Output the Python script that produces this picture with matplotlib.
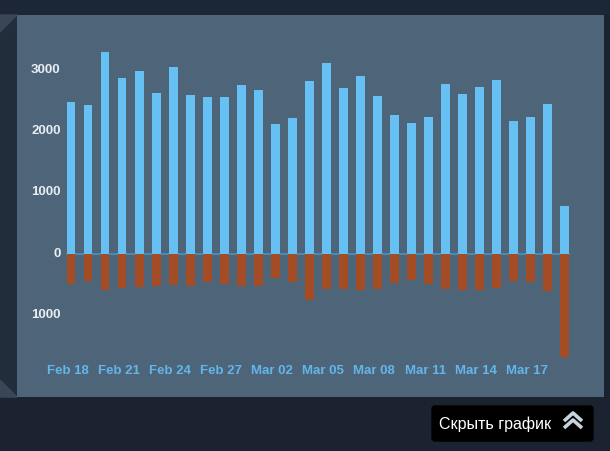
import matplotlib.pyplot as plt
from matplotlib.patches import Rectangle, Polygon, FancyBboxPatch

# daily values, Feb 18 .. Mar 19
days = ['Feb 18', 'Feb 19', 'Feb 20', 'Feb 21', 'Feb 22', 'Feb 23', 'Feb 24', 'Feb 25',
        'Feb 26', 'Feb 27', 'Feb 28', 'Mar 01', 'Mar 02', 'Mar 03', 'Mar 04', 'Mar 05',
        'Mar 06', 'Mar 07', 'Mar 08', 'Mar 09', 'Mar 10', 'Mar 11', 'Mar 12', 'Mar 13',
        'Mar 14', 'Mar 15', 'Mar 16', 'Mar 17', 'Mar 18', 'Mar 19']
positive = [2475, 2426, 3295, 2869, 2984, 2623, 3049, 2590, 2557, 2557,
            2754, 2672, 2115, 2213, 2820, 3115, 2705, 2902, 2574, 2262,
            2131, 2230, 2770, 2607, 2721, 2836, 2164, 2230, 2443, 785]
negative = [-500, -440, -590, -560, -540, -535, -505, -535, -460, -490,
            -525, -525, -405, -460, -750, -570, -570, -590, -570, -475,
            -425, -490, -575, -590, -590, -560, -440, -460, -610, -1690]
ytick_vals = [3000, 2000, 1000, 0, -1000]
ytick_text = ['3000', '2000', '1000', '0', '1000']

W, H = 610, 451
fig = plt.figure(figsize=(W / 100, H / 100), dpi=100)
fig.patch.set_facecolor('#1b2331')

# left strip and decorations (figure pixel coords)
bg = fig.add_axes([0, 0, 1, 1])
bg.set_xlim(0, W)
bg.set_ylim(H, 0)
bg.axis('off')
bg.add_patch(Rectangle((0, 0), W, 15, color='#1c2636'))
bg.add_patch(Rectangle((0, 15), 17, 382, color='#222d3c'))
bg.add_patch(Polygon([(0, 15), (17, 15), (0, 32)], color='#3a4656'))
bg.add_patch(Polygon([(0, 380), (17, 397), (0, 397)], color='#3a4656'))
bg.add_patch(Rectangle((604, 15), 6, 382, color='#1a2230'))

# button
bg.add_patch(FancyBboxPatch((432, 406), 161, 35, boxstyle='round,pad=0,rounding_size=3',
                            color='#000000'))
bg.text(439, 424, 'Скрыть график', color='#ffffff', fontsize=11.5,
        family='Liberation Sans', va='center', ha='left')
for dy in (0, 7):
    bg.plot([564, 573, 582], [421 + dy, 413 + dy, 421 + dy], color='#c6d4df', lw=2.6,
            solid_capstyle='butt')

# chart panel
ax = fig.add_axes([17 / W, 1 - 397 / H, 587 / W, 382 / H])
ax.set_facecolor('#4e6479')
x = list(range(len(days)))
ax.bar(x, positive, width=0.52, color='#66c0f4', zorder=2)
ax.bar(x, negative, width=0.52, color='#a34c25', zorder=2)
ax.plot([-0.26, len(days) - 0.74], [0, 0], color='#4f8cb5', lw=1.3, zorder=1)

ax.set_xlim(-3.17, 31.3)
ax.set_ylim(-2344, 3902)
for s in ax.spines.values():
    s.set_visible(False)
ax.set_xticks([])
ax.set_yticks([])

for v, t in zip(ytick_vals, ytick_text):
    ax.text(-0.6, v, t, ha='right', va='center', color='#e8eef2', fontsize=9.5,
            fontweight='bold', family='Liberation Sans')
for i in range(0, len(days), 3):
    ax.text(i - 0.2, -1920, days[i], ha='center', va='center', color='#62b6ea',
            fontsize=9.5, fontweight='bold', family='Liberation Sans')

fig.savefig('out.png', dpi=100, facecolor=fig.get_facecolor())
